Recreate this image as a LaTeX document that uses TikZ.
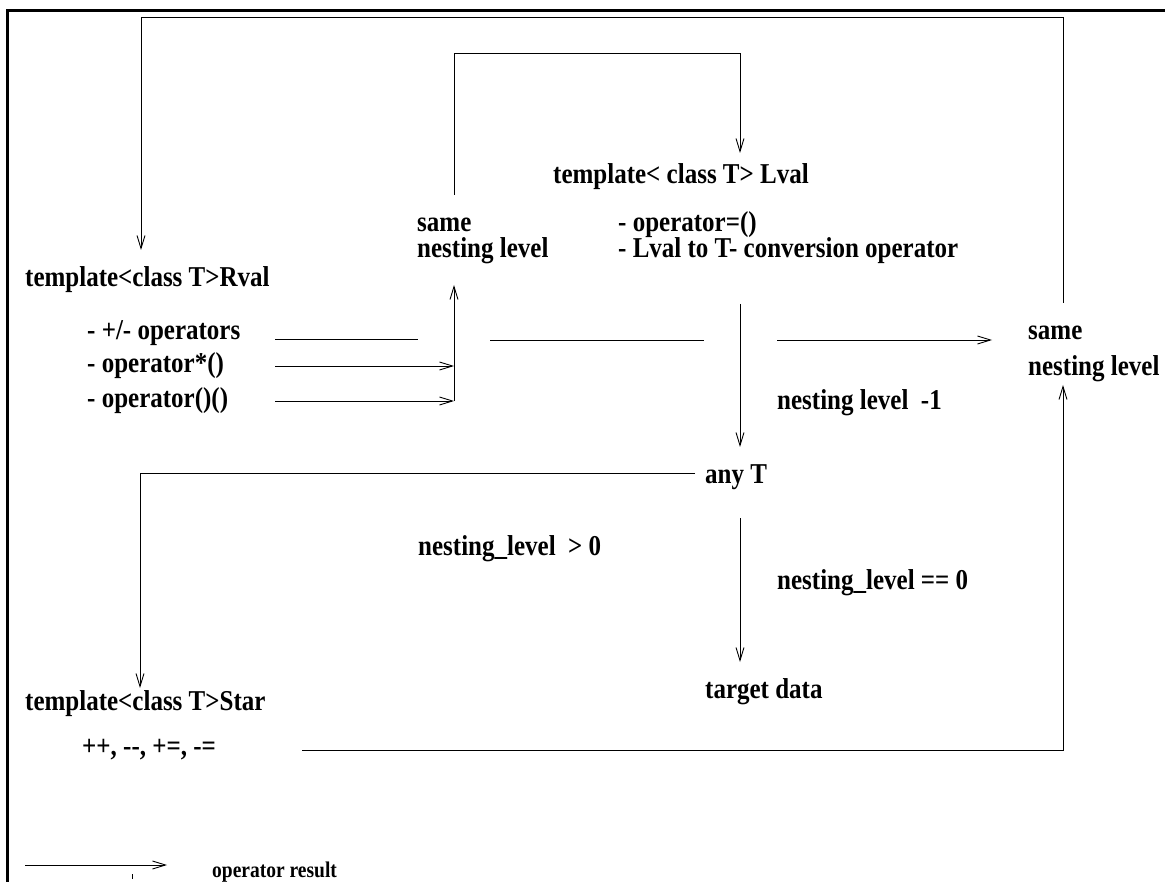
\documentclass[tikz,border=0pt]{standalone}
\usepackage{fontspec}
\usepackage{graphicx}
\setmainfont{Liberation Serif}
\usetikzlibrary{arrows.meta}
% labels are set in a slightly tall bold serif
\newcommand{\stretchtxt}[1]{\scalebox{1}[1.15]{#1}}
\tikzset{
  lbl/.style={anchor=base west, inner sep=0pt, font=\fontsize{25}{30}\selectfont\bfseries},
  smalllbl/.style={anchor=base west, inner sep=0pt, font=\fontsize{19.5}{24}\selectfont\bfseries},
  wire/.style={line width=0.9pt, draw=black},
  flow/.style={wire, -{Straight Barb[length=13pt,width=8pt,line width=0.9pt]}},
  frameline/.style={line width=3pt}
}
\begin{document}
\begin{tikzpicture}[x=1pt,y=-1pt]
\useasboundingbox (0,0) rectangle (1165,882);

% page frame (top and left edges)
\draw[frameline] (7.5,882) -- (7.5,10.5) -- (1165,10.5);

% ---- texts ----
\node[lbl] (rval)    at (25,287)  {\stretchtxt{template<class T>Rval}};
\node[lbl] (opadd)   at (87,340)  {\stretchtxt{- +/- operators}};
\node[lbl] (opstar)  at (87,373)  {\stretchtxt{- operator*()}};
\node[lbl] (opcall)  at (87,408)  {\stretchtxt{- operator()()}};
\node[lbl] (lval)    at (553,184) {\stretchtxt{template< class T> Lval}};
\node[lbl] (sameA)   at (417,232) {\stretchtxt{same}};
\node[lbl] (nestA)   at (417,258) {\stretchtxt{nesting level}};
\node[lbl] (opeq)    at (618,232) {\stretchtxt{- operator=()}};
\node[lbl] (conv)    at (618,258) {\stretchtxt{- Lval to T- conversion operator}};
\node[lbl] (sameB)   at (1028,340) {\stretchtxt{same}};
\node[lbl] (nestB)   at (1028,376) {\stretchtxt{nesting level}};
\node[lbl] (nlm)     at (777,410) {\stretchtxt{nesting level\ \ -1}};
\node[lbl] (anyT)    at (705,483) {\stretchtxt{any T}};
\node[lbl] (gtzero)  at (418,555) {\stretchtxt{nesting\_level\ \ > 0}};
\node[lbl] (eqzero)  at (777,589) {\stretchtxt{nesting\_level == 0}};
\node[lbl] (target)  at (705,698) {\stretchtxt{target data}};
\node[lbl] (star)    at (25,710)  {\stretchtxt{template<class T>Star}};
\node[lbl] (starops) at (82,755)  {\stretchtxt{++, -{}-, +=, -=}};
\node[smalllbl] (legend) at (212,877) {\stretchtxt{operator result}};

% ---- connector end points ----
\coordinate (sBtop)   at (1063,303);
\coordinate (rvalIn)  at (141,250);
\coordinate (loopTop) at (141,17);
\coordinate (sAtop)   at (454,195);
\coordinate (lvalIn)  at (740,153);
\coordinate (lvalTop) at (740,53);
\coordinate (addA)    at (275,339);
\coordinate (addB)    at (418,339);
\coordinate (addC)    at (490,340);
\coordinate (addD)    at (704,340);
\coordinate (addE)    at (777,340);
\coordinate (sBin)    at (992,340);
\coordinate (mulA)    at (275,366);
\coordinate (mulB)    at (454,366);
\coordinate (callA)   at (275,401);
\coordinate (callB)   at (454,401);
\coordinate (sAin)    at (454,285);
\coordinate (lvalOut) at (740,304);
\coordinate (anyIn)   at (740,447);
\coordinate (anyL)    at (695,473);
\coordinate (starIn)  at (140,688);
\coordinate (anyOut)  at (740,518);
\coordinate (tgtIn)   at (740,662);
\coordinate (starOut) at (302,750);
\coordinate (sBbot)   at (1063,385);
\coordinate (legA)    at (25,865);
\coordinate (legB)    at (167,865);
\coordinate (tickA)   at (132,874);
\coordinate (tickB)   at (132,879);

% ---- connectors ----
\draw[flow] (sBtop) |- (loopTop) -- (rvalIn);
\draw[flow] (sAtop) |- (lvalTop) -- (lvalIn);
\draw[wire] (addA) -- (addB);
\draw[wire] (addC) -- (addD);
\draw[flow] (addE) -- (sBin);
\draw[flow] (mulA) -- (mulB);
\draw[flow] (callA) -- (callB);
\draw[flow] (callB) -- (sAin);
\draw[flow] (lvalOut) -- (anyIn);
\draw[flow] (anyL) -| (starIn);
\draw[flow] (anyOut) -- (tgtIn);
\draw[flow] (starOut) -| (sBbot);

% legend
\draw[flow] (legA) -- (legB);
\draw[wire] (tickA) -- (tickB);
\end{tikzpicture}
\end{document}
